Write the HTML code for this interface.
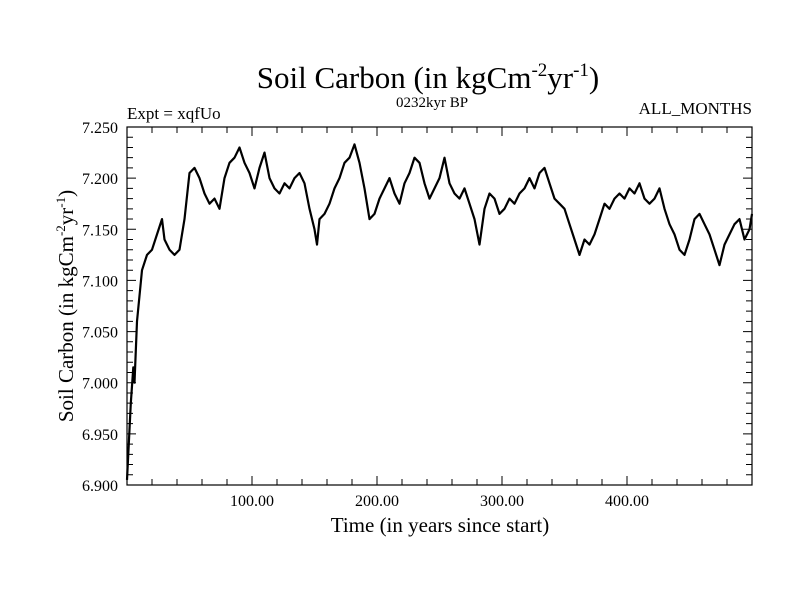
<!DOCTYPE html>
<html><head><meta charset="utf-8"><style>
body{margin:0;background:#fff}
svg{display:block;font-family:"Liberation Serif",serif}
</style></head><body>
<svg id="chart" width="800" height="600" viewBox="0 0 800 600">
<text x="428" y="88" font-size="31" text-anchor="middle">Soil Carbon (in kgCm<tspan font-size="19" dy="-12">-2</tspan><tspan dy="12">yr</tspan><tspan font-size="19" dy="-12">-1</tspan><tspan dy="12">)</tspan></text>
<text x="127" y="119" font-size="17">Expt = xqfUo</text>
<text x="432" y="107" font-size="15" text-anchor="middle">0232kyr BP</text>
<text x="752" y="114" font-size="17" text-anchor="end">ALL_MONTHS</text>
<g id="axes"></g>
<text x="440" y="532" font-size="21" text-anchor="middle">Time (in years since start)</text>
<text transform="translate(73,306) rotate(-90)" font-size="21" text-anchor="middle">Soil Carbon (in kgCm<tspan font-size="13" dy="-8">-2</tspan><tspan dy="8">yr</tspan><tspan font-size="13" dy="-8">-1</tspan><tspan dy="8">)</tspan></text>
</svg>
<script>
const years=[0,3,5,6,8,12,16,20,24,28,30,34,38,42,46,50,54,58,62,66,70,74,78,82,86,90,94,98,102,106,110,114,118,122,126,130,134,138,142,146,150,152,154,158,162,166,170,174,178,182,186,190,194,198,202,206,210,214,218,222,226,230,234,238,242,246,250,254,258,262,266,270,274,278,282,286,290,294,298,302,306,310,314,318,322,326,330,334,338,342,346,350,354,358,362,366,370,374,378,382,386,390,394,398,402,406,410,414,418,422,426,430,434,438,442,446,450,454,458,462,466,470,474,478,482,486,490,494,498,500];
const values=[6.905,6.98,7.015,7.0,7.06,7.11,7.125,7.13,7.145,7.16,7.14,7.13,7.125,7.13,7.16,7.205,7.21,7.2,7.185,7.175,7.18,7.17,7.2,7.215,7.22,7.23,7.215,7.205,7.19,7.21,7.225,7.2,7.19,7.185,7.195,7.19,7.2,7.205,7.195,7.17,7.15,7.135,7.16,7.165,7.175,7.19,7.2,7.215,7.22,7.233,7.215,7.19,7.16,7.165,7.18,7.19,7.2,7.185,7.175,7.195,7.205,7.22,7.215,7.195,7.18,7.19,7.2,7.22,7.195,7.185,7.18,7.19,7.175,7.16,7.135,7.17,7.185,7.18,7.165,7.17,7.18,7.175,7.185,7.19,7.2,7.19,7.205,7.21,7.195,7.18,7.175,7.17,7.155,7.14,7.125,7.14,7.135,7.145,7.16,7.175,7.17,7.18,7.185,7.18,7.19,7.185,7.195,7.18,7.175,7.18,7.19,7.17,7.155,7.145,7.13,7.125,7.14,7.16,7.165,7.155,7.145,7.13,7.115,7.135,7.145,7.155,7.16,7.14,7.15,7.165];
const xTickLabels=["100.00","200.00","300.00","400.00"];
const yTickLabels=["6.900","6.950","7.000","7.050","7.100","7.150","7.200","7.250"];
const L=127,R=752,T=127,B=485,X0=0,X1=500,Y0=6.9,Y1=7.25;
const sx=v=>L+(v-X0)/(X1-X0)*(R-L);
const sy=v=>B-(v-Y0)/(Y1-Y0)*(B-T);
const NS="http://www.w3.org/2000/svg";
const g=document.getElementById('axes');
function mk(t,a){const e=document.createElementNS(NS,t);for(const k in a)e.setAttribute(k,a[k]);g.appendChild(e);return e;}
let d="";
for(let y=0;y<=500;y+=20){const x=sx(y),len=(y%100===0)?9:6;d+=`M${x},${B}v${-len}M${x},${T}v${len}`;}
for(let i=0;i<=35;i++){const v=Y0+i*0.01,y=sy(v),len=(i%5===0)?9:6;d+=`M${L},${y}h${len}M${R},${y}h${-len}`;}
const ticks=mk('path',{d:d,stroke:'#000','stroke-width':1,fill:'none'});


xTickLabels.forEach(s=>{const t=mk('text',{x:sx(parseFloat(s)),y:506,'font-size':16,'text-anchor':'middle'});t.textContent=s;

});
yTickLabels.forEach(s=>{const t=mk('text',{x:118,y:sy(parseFloat(s))+6,'font-size':16,'text-anchor':'end'});t.textContent=s;

});
const pts=years.map((y,i)=>`${sx(y).toFixed(1)},${sy(values[i]).toFixed(1)}`).join(' ');
const line=mk('polyline',{points:pts,fill:'none',stroke:'#000','stroke-width':2.2,'stroke-linejoin':'round'});


const frame=mk('rect',{x:L,y:T,width:R-L,height:B-T,fill:'none',stroke:'#000','stroke-width':1.2});


</script>
</body></html>
